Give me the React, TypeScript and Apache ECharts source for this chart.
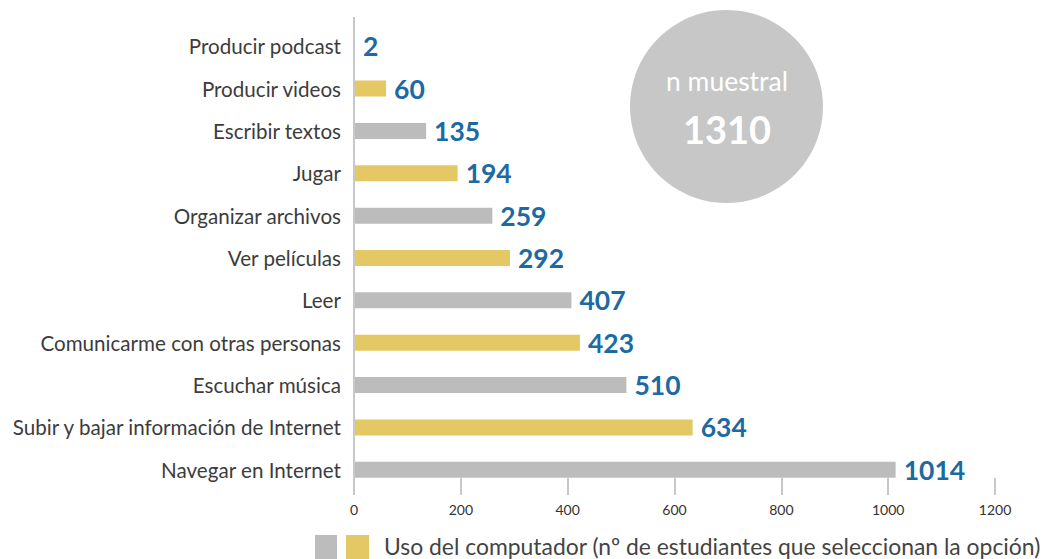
import React, { useEffect, useRef } from "react";
import * as echarts from "echarts";

const categories = [
  "Producir podcast",
  "Producir videos",
  "Escribir textos",
  "Jugar",
  "Organizar archivos",
  "Ver películas",
  "Leer",
  "Comunicarme con otras personas",
  "Escuchar música",
  "Subir y bajar información de Internet",
  "Navegar en Internet",
];
const values = [2, 60, 135, 194, 259, 292, 407, 423, 510, 634, 1014];
const xTicks = [0, 200, 400, 600, 800, 1000, 1200];
const sampleLabel = "n muestral";
const sampleSize = 1310;
const legendText = "Uso del computador (nº de estudiantes que seleccionan la opción)";

const GRAY = "#bbbcbb";
const YELLOW = "#e4c864";
const BLUE = "#1d6aa3";
const FONT = "Lato, 'Noto Sans', sans-serif";

export default function App() {
  const ref = useRef<HTMLDivElement>(null);
  useEffect(() => {
    document.body.style.margin = "0";
    const chart = echarts.init(ref.current!, null, { renderer: "svg" });
    chart.setOption({
      animation: false,
      textStyle: { fontFamily: FONT },
      grid: { left: 354, right: 52, top: 25, bottom: 68, containLabel: false },
      xAxis: {
        type: "value",
        min: xTicks[0],
        max: xTicks[xTicks.length - 1],
        interval: 200,
        offset: 4,
        axisLine: { show: false },
        axisTick: { show: true, inside: true, length: 17, lineStyle: { color: "#c8c8c8", width: 2 } },
        splitLine: { show: false },
        axisLabel: {
          fontSize: 14,
          color: "#333",
          margin: 7,
          fontFamily: FONT,
          formatter: (v: number) => String(v),
        },
      },
      yAxis: {
        type: "category",
        data: categories,
        inverse: true,
        axisLine: { show: false },
        axisTick: { show: false },
        axisLabel: { fontSize: 20.6, color: "#3c3c3c", margin: 13, fontFamily: FONT },
      },
      series: [
        {
          type: "bar",
          barWidth: 16,
          data: values.map((v, i) => ({
            value: v,
            itemStyle: { color: i % 2 === 0 ? GRAY : YELLOW },
          })),
          label: {
            show: true,
            position: "right",
            distance: 8,
            color: BLUE,
            fontWeight: "bold",
            fontSize: 26.5,
            fontFamily: FONT,
          },
        },
      ],
      graphic: [
        {
          type: "line",
          shape: { x1: 354, y1: 17, x2: 354, y2: 495 },
          style: { stroke: "#c8c8c8", lineWidth: 2 },
          z: 10,
        },
        {
          type: "circle",
          shape: { cx: 726.5, cy: 106.5, r: 96.5 },
          style: { fill: "#c6c7c6" },
        },
        {
          type: "text",
          x: 727,
          y: 81,
          style: {
            text: sampleLabel,
            fill: "#ffffff",
            fontSize: 26.5,
            fontFamily: FONT,
            align: "center",
            verticalAlign: "middle",
          },
        },
        {
          type: "text",
          x: 727,
          y: 129,
          style: {
            text: String(sampleSize),
            fill: "#ffffff",
            fontSize: 38,
            fontWeight: "bold",
            fontFamily: FONT,
            align: "center",
            verticalAlign: "middle",
          },
        },
        {
          type: "rect",
          shape: { x: 315, y: 535, width: 22, height: 24 },
          style: { fill: GRAY },
        },
        {
          type: "rect",
          shape: { x: 346, y: 535, width: 23, height: 24 },
          style: { fill: YELLOW },
        },
        {
          type: "text",
          x: 384,
          y: 546,
          style: {
            text: legendText,
            fill: "#444",
            fontSize: 22.9,
            fontFamily: FONT,
            align: "left",
            verticalAlign: "middle",
          },
        },
      ],
    });
    return () => chart.dispose();
  }, []);
  return <div ref={ref} style={{ width: 1047, height: 559 }} />;
}
